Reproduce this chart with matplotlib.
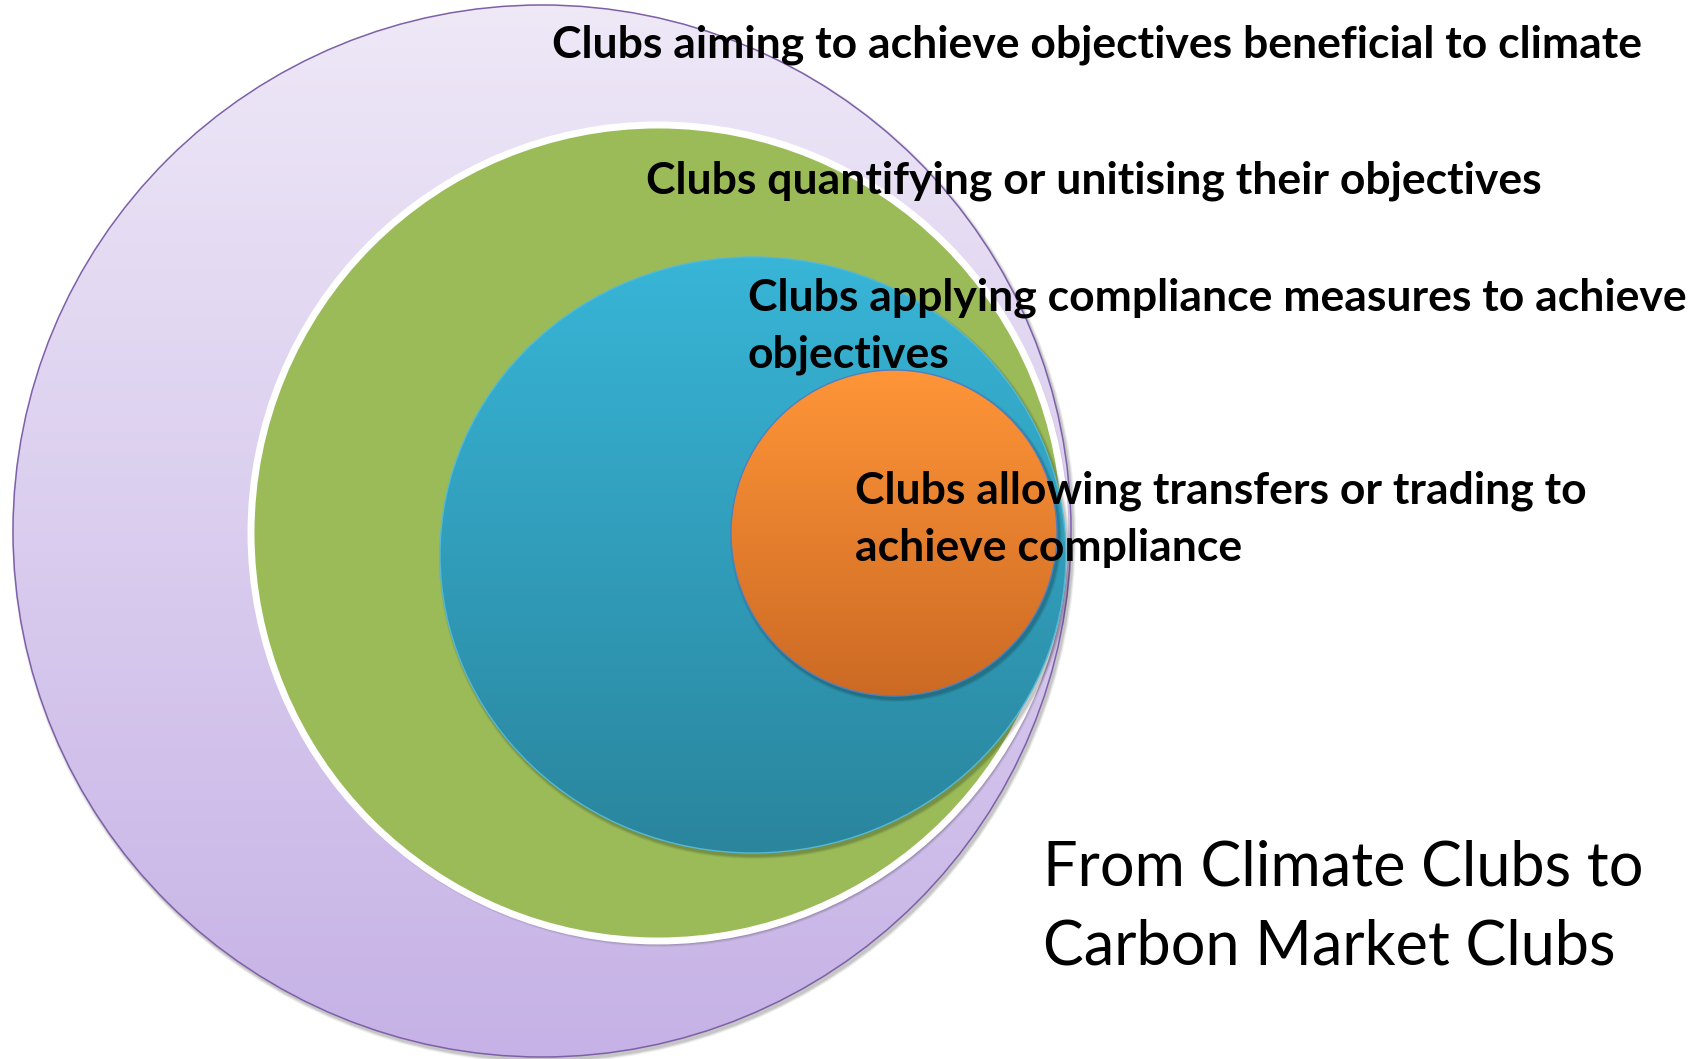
#!/usr/bin/env python3
"""Nested circles: from climate clubs to carbon market clubs."""

import matplotlib
matplotlib.use("Agg")
import matplotlib.pyplot as plt
import numpy as np
from matplotlib.colors import LinearSegmentedColormap
from matplotlib.patches import Ellipse

W, H = 1698, 1059

# ── Diagram content (outer -> inner) ─────────────────────────────────────────
LABELS = [
    "Clubs aiming to achieve objectives beneficial to climate",
    "Clubs quantifying or unitising their objectives",
    "Clubs applying compliance measures to achieve\nobjectives",
    "Clubs allowing transfers or trading to\nachieve compliance",
]
TITLE = "From Climate Clubs to\nCarbon Market Clubs"

# circle geometry in pixel coords (y downwards): centre x, centre y, rx, ry
CX = [542, 658, 753, 894]
CY = [531, 533, 555, 533]
RX = [529, 407, 313, 163]
RY = [526, 408, 298, 163]

# fill gradient top -> bottom, edge colour, edge width (pt)
TOP = ["#EEE8F7", "#9BBB59", "#38B5D7", "#FF9538"]
BOT = ["#C6B2E6", "#9BBB59", "#2A859D", "#CC6A24"]
EDGE = ["#7D60A8", "white", "#55B9D6", "#4F7FBF"]
LW = [1.1, 5.0, 1.0, 1.0]

# label anchors (left x, first line centre y)
LX = [552, 646, 748, 855]
LY = [45, 181, 298, 491]
LINE_GAP = 57


def gradient_ellipse(ax, cx, cy, rx, ry, c_top, c_bot, edge, lw, z):
    # soft drop shadow
    for k, a in [(6, 0.06), (4, 0.08), (2, 0.10)]:
        sh = Ellipse((cx + 2, cy + 3), 2 * rx + k, 2 * ry + k,
                     facecolor="black", edgecolor="none", alpha=a, zorder=z)
        ax.add_patch(sh)
    patch = Ellipse((cx, cy), 2 * rx, 2 * ry, facecolor="none",
                    edgecolor=edge, lw=lw, zorder=z + 0.2)
    ax.add_patch(patch)
    cmap = LinearSegmentedColormap.from_list("g", [c_top, c_bot])
    grad = np.linspace(0, 1, 256).reshape(-1, 1)
    im = ax.imshow(grad, cmap=cmap, aspect="auto", origin="upper",
                   extent=[cx - rx, cx + rx, cy + ry, cy - ry],
                   zorder=z + 0.1, interpolation="bilinear")
    im.set_clip_path(patch)


def main() -> None:
    fig = plt.figure(figsize=(W / 100, H / 100), dpi=100)
    ax = fig.add_axes([0, 0, 1, 1])
    ax.set_xlim(0, W)
    ax.set_ylim(H, 0)
    ax.axis("off")

    for i in range(len(CX)):
        gradient_ellipse(ax, CX[i], CY[i], RX[i], RY[i], TOP[i], BOT[i],
                         EDGE[i], LW[i], z=1 + i)

    for lab, x, y in zip(LABELS, LX, LY):
        for k, line in enumerate(lab.split("\n")):
            ax.text(x, y + k * LINE_GAP, line, fontsize=32, fontweight="bold",
                    family=["Lato", "DejaVu Sans"], ha="left", va="center",
                    color="black", zorder=10)

    for k, line in enumerate(TITLE.split("\n")):
        ax.text(1043, 868 + k * 79, line, fontsize=44,
                family=["Lato", "DejaVu Sans"], ha="left", va="center",
                color="black", zorder=10)

    fig.savefig("out.png", dpi=100)
    plt.close()


if __name__ == "__main__":
    main()
